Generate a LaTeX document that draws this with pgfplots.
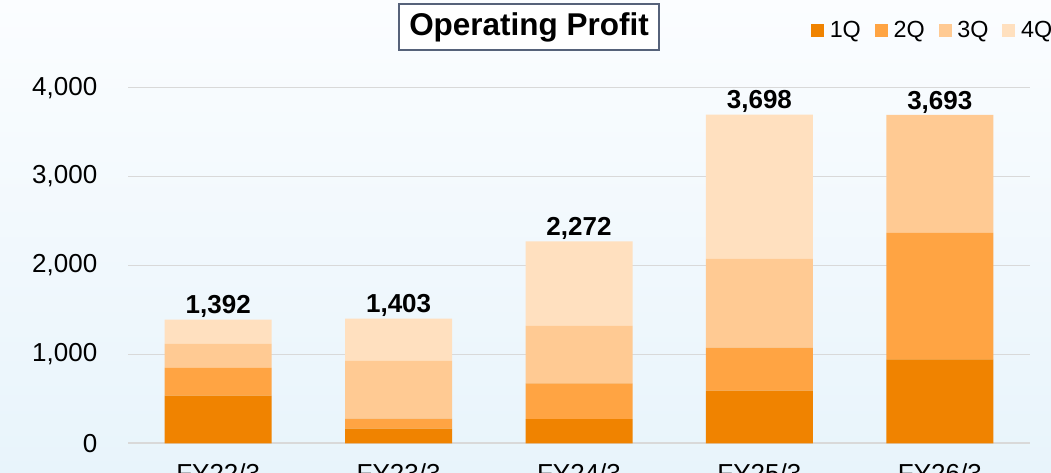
\documentclass[border=0pt]{standalone}
\usepackage{pgfplots}
\pgfplotsset{compat=1.18}
\usepackage{pgfplotstable}
\usepackage{fontspec}
\setmainfont{Liberation Sans}
\definecolor{qa}{HTML}{F08300}
\definecolor{qb}{HTML}{FFA443}
\definecolor{qc}{HTML}{FFCA93}
\definecolor{qd}{HTML}{FFE0BF}
\definecolor{bgtop}{HTML}{FBFDFF}
\definecolor{bgbot}{HTML}{E8F4FB}
\definecolor{gridc}{HTML}{D9D9D9}
\definecolor{boxc}{HTML}{56627A}
\pgfplotstableread{
x q1 q2 q3 q4 total label
0 535 312 270 275 1392 1,392
1 164 113 649 477 1403 1,403
2 273 402 645 952 2272 2,272
3 592 484 997 1625 3698 3,698
4 945 1421 1327 0 3693 3,693
}\data
\pgfplotsset{common/.style={
  at={(96pt,22.28pt)}, anchor=south west,
  scale only axis, width=676.5pt, height=266.7pt,
  xmin=-0.5, xmax=4.5, ymin=0, ymax=4000, clip=false}}
\begin{document}
\begin{tikzpicture}
\clip (0,0) rectangle (788.25pt,354.75pt);
\shade[top color=bgtop, bottom color=bgbot] (0,0) rectangle (788.25pt,354.75pt);
\begin{axis}[
  common,
  ybar stacked, bar width=80.25pt,
  axis line style={draw=none},
  major tick length=0pt,
  xtick={0,1,2,3,4},
  xticklabels={FY22/3,FY23/3,FY24/3,FY25/3,FY26/3},
  ytick={0,1000,2000,3000,4000},
  yticklabels={0,{1,000},{2,000},{3,000},{4,000}},
  ymajorgrids, major grid style={gridc, line width=1.2pt},
  tick label style={font=\fontsize{19.5pt}{23pt}\selectfont, black},
  yticklabel style={xshift=-19.5pt},
  xticklabel style={yshift=-11.5pt},
  legend columns=4,
  legend style={at={(0.757,1.162)}, anchor=west, draw=none, fill=none,
    font=\fontsize{17.5pt}{20pt}\selectfont, inner sep=0pt,
    /tikz/every odd column/.append style={column sep=2.25pt},
    /tikz/every even column/.append style={column sep=8.5pt}},
  legend image code/.code={\fill[#1] (0pt,-4.875pt) rectangle (9.75pt,4.875pt);},
]
\addplot[fill=qa, draw=none] table[x=x,y=q1] {\data};
\addplot[fill=qb, draw=none] table[x=x,y=q2] {\data};
\addplot[fill=qc, draw=none] table[x=x,y=q3] {\data};
\addplot[fill=qd, draw=none] table[x=x,y=q4] {\data};
\legend{1Q,2Q,3Q,4Q}
\end{axis}
\begin{axis}[common, hide axis]
\addplot[draw=none, mark=none, point meta=explicit symbolic,
  nodes near coords,
  nodes near coords style={anchor=base, yshift=4.3pt, black, font=\bfseries\fontsize{19.5pt}{23pt}\selectfont}]
  table[x=x,y=total,meta=label] {\data};
\end{axis}
\node[draw=boxc, line width=1.1pt, fill=white, minimum width=195pt, minimum height=34.5pt, inner sep=0pt]
  at (396.75pt,334.5pt) {\bfseries\fontsize{23.6pt}{28pt}\selectfont Operating Profit};
\end{tikzpicture}
\end{document}
